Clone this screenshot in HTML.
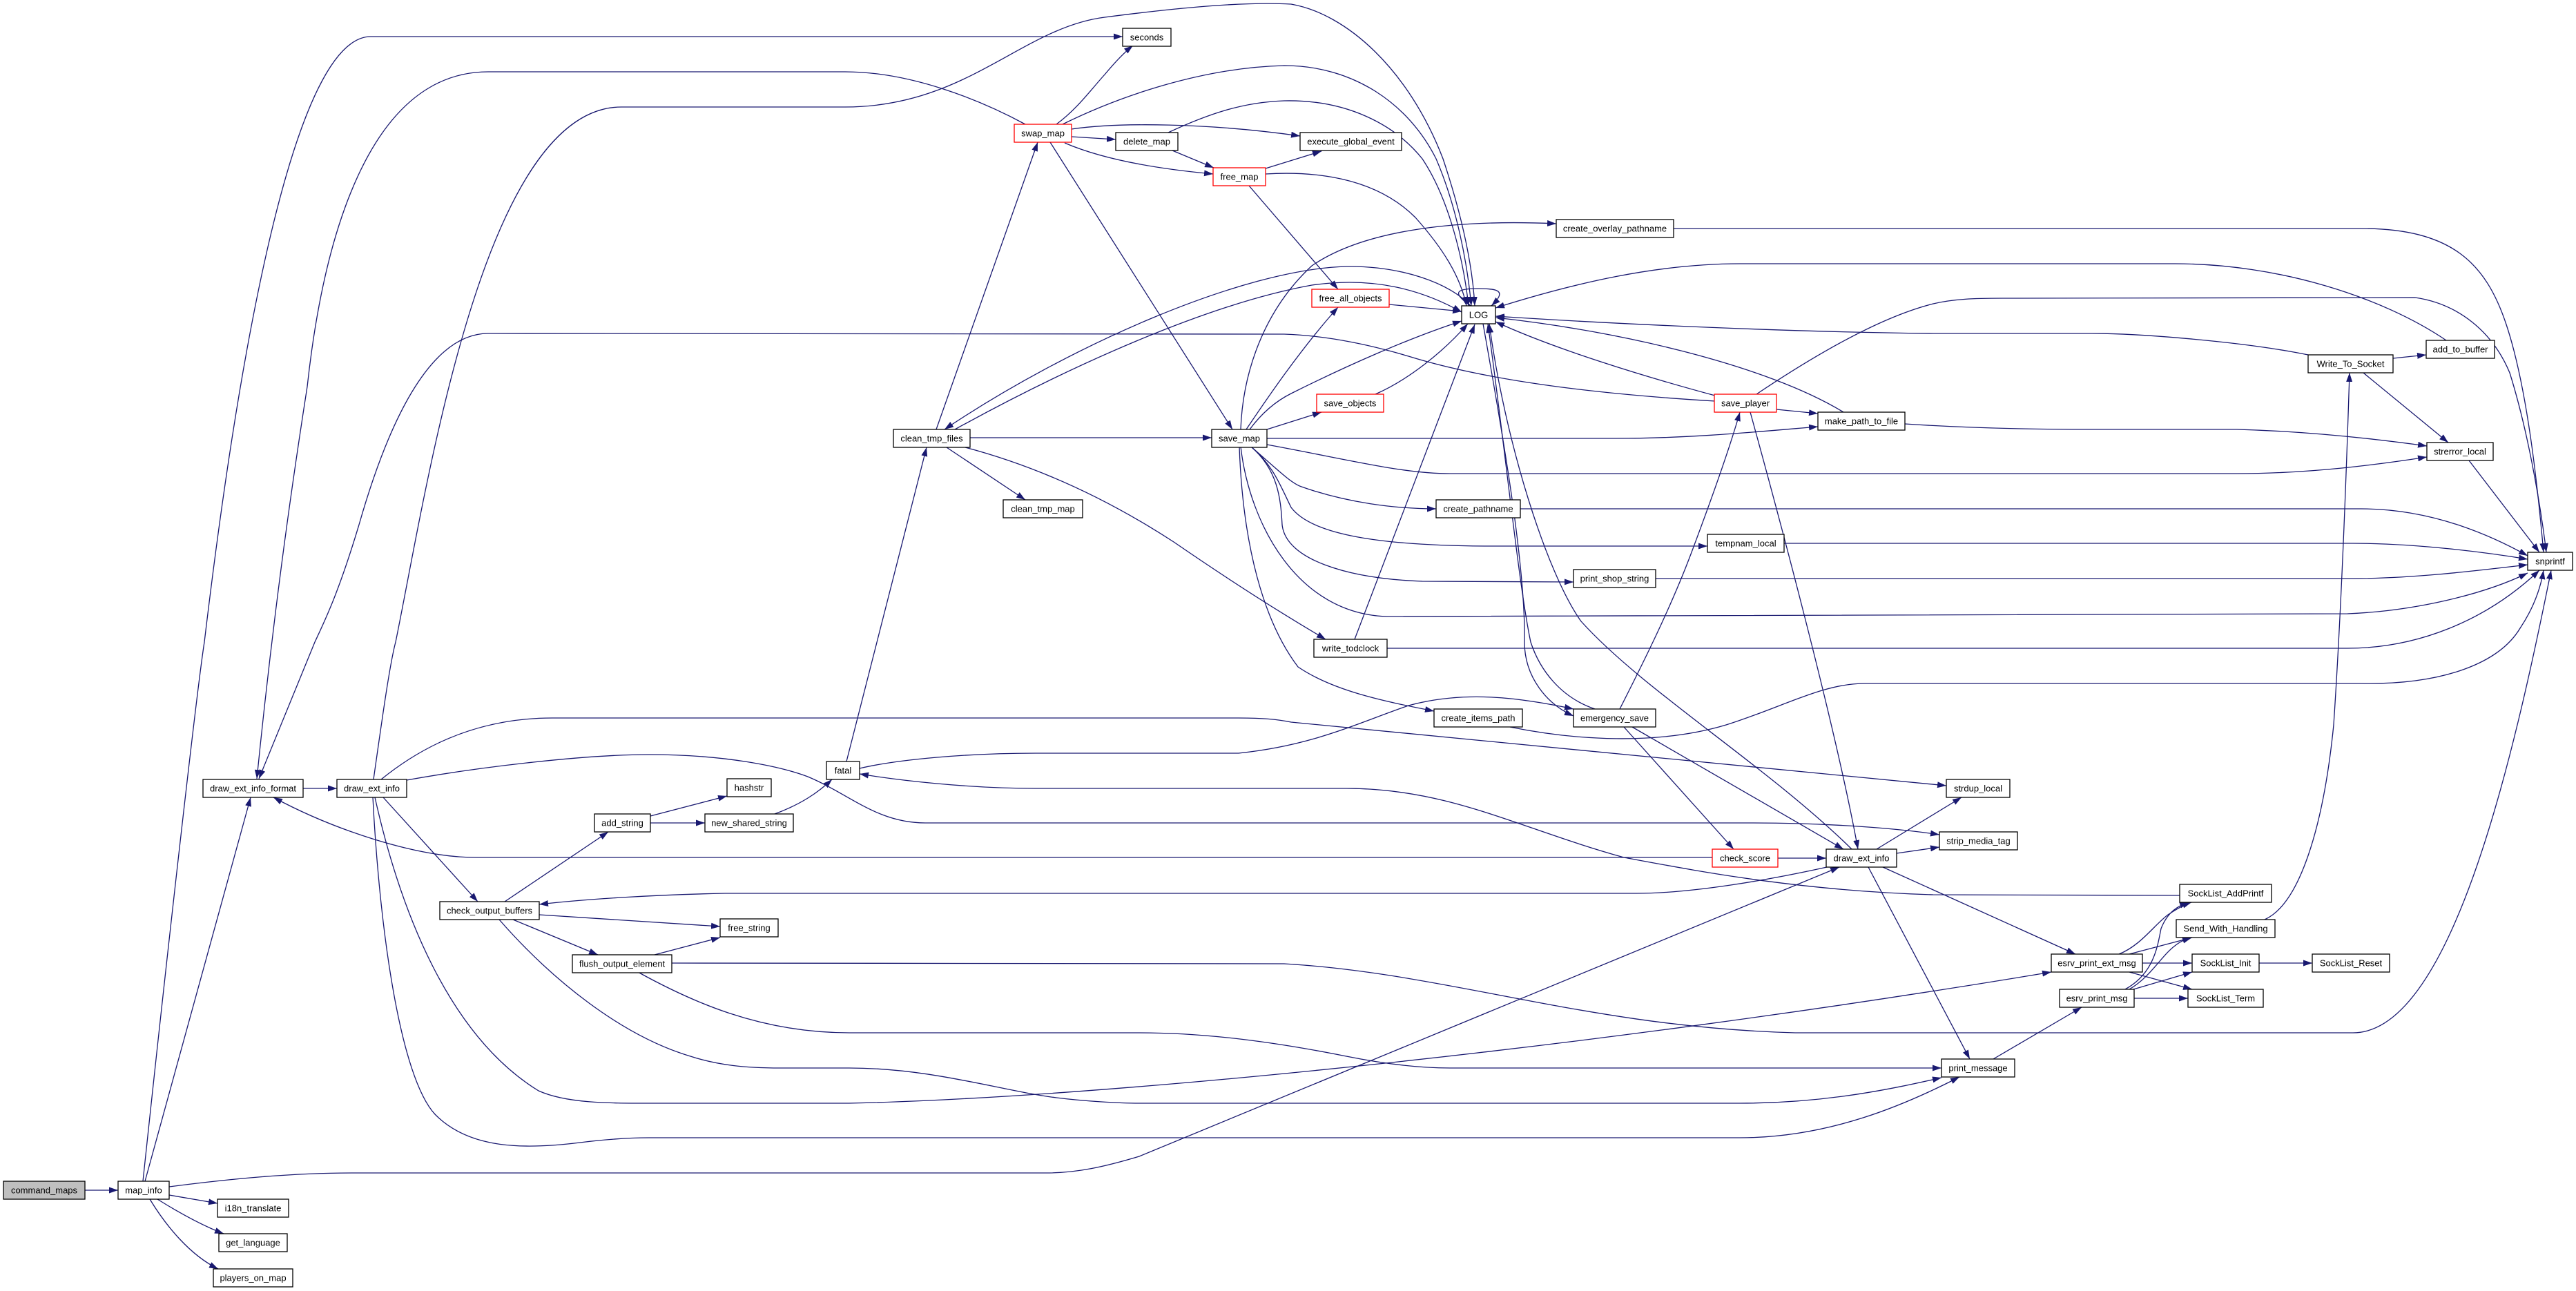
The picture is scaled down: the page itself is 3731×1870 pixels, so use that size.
<!DOCTYPE html>
<html><head><meta charset="utf-8"><style>
html,body{margin:0;padding:0;background:#fff;}
svg{display:block;}
text{font-family:"Liberation Sans",Arial,sans-serif;font-size:13px;fill:#000;}
</style></head><body>
<svg width="3731" height="1870" viewBox="0 0 3731 1870" xmlns="http://www.w3.org/2000/svg">
<defs><marker id="a" markerWidth="13" markerHeight="9" refX="13" refY="4.5" orient="auto" markerUnits="userSpaceOnUse"><path d="M0,0L13,4.5L0,9z" fill="#191970"/></marker></defs>
<rect x="0" y="0" width="3731" height="1870" fill="#fff"/>
<g fill="none" stroke="#191970" stroke-width="1.3" marker-end="url(#a)">
<path d="M123,1724 L171,1724"/>
<path d="M245,1731 L315,1743"/>
<path d="M228,1737 C260,1757 295,1776 324,1787"/>
<path d="M217,1737 C240,1775 275,1818 316,1838"/>
<path d="M210,1711 L363,1155"/>
<path d="M207,1711 C240,1400 285,1000 296,930 C340,560 420,53 537,53 L1626,53"/>
<path d="M245,1719 C330,1708 420,1699 510,1699 L1515,1699 C1560,1699 1600,1690 1650,1675 L2664,1256"/>
<path d="M439,1142 L488,1142"/>
<path d="M1485,180 C1420,145 1320,104 1224,104 L707,104 C540,104 470,330 445,560 C420,720 395,900 372,1128"/>
<path d="M2484,581 C2300,570 2150,550 2040,516 C1980,498 1920,486 1860,484 L707,483 C620,483 560,620 520,760 C490,860 470,900 456,930 L375,1128"/>
<path d="M2480,1242 L690,1242 C600,1242 480,1200 396,1155"/>
<path d="M541,1129 C555,1030 565,960 573,930 C620,700 700,155 900,155 L1224,155 C1400,155 1480,40 1600,25 C1700,12 1800,2 1870,6 C1950,20 2040,100 2090,230 C2120,320 2133,390 2136,443"/>
<path d="M1530,180 C1560,158 1580,130 1600,108 C1615,90 1628,76 1641,66"/>
<path d="M1539,180 C1620,140 1740,98 1860,95 C1960,95 2040,150 2080,230 C2110,300 2125,380 2131,443"/>
<path d="M1552,187 C1620,177 1750,178 1883,197"/>
<path d="M1552,198 L1616,202"/>
<path d="M1542,207 C1600,232 1680,245 1757,252"/>
<path d="M1521,206 L1785,622"/>
<path d="M1698,218 L1758,243"/>
<path d="M1692,192 C1750,165 1800,148 1860,146 C1950,144 2020,180 2060,230 C2100,290 2120,380 2127,443"/>
<path d="M1833,244 L1914,219"/>
<path d="M1833,252 C1900,248 1990,255 2050,315 C2090,360 2115,400 2124,443"/>
<path d="M1809,269 L1938,419"/>
<path d="M1356,622 L1503,206"/>
<path d="M1405,634 L1755,634"/>
<path d="M1371,648 L1485,724"/>
<path d="M1398,648 C1500,675 1600,720 1700,785 C1780,840 1850,885 1920,926"/>
<path d="M2130,443 C2100,410 2030,385 1950,386 C1800,390 1550,500 1368,622"/>
<path d="M1383,622 C1550,530 1750,440 1900,413 C1990,400 2060,420 2117,452"/>
<path d="M1226,1103 L1342,648"/>
<path d="M1810,622 C1830,595 1850,580 1870,570 C1950,530 2040,490 2117,465"/>
<path d="M1797,622 C1800,540 1830,450 1900,385 C1980,330 2120,318 2254,324"/>
<path d="M1805,622 C1830,585 1880,510 1938,445"/>
<path d="M1835,622 L1914,597"/>
<path d="M1835,635 L2340,635 C2450,635 2550,625 2633,618"/>
<path d="M1835,644 C1950,665 2030,686 2100,686 L3240,686 C3350,686 3450,672 3515,662"/>
<path d="M1812,647 C1850,680 1870,700 1885,705 C1950,728 2020,737 2080,737"/>
<path d="M1812,647 C1845,675 1855,705 1870,735 C1900,775 2000,790 2150,791 L2473,791"/>
<path d="M1812,647 C1850,680 1855,720 1857,760 C1862,810 1950,838 2060,842 L2279,843"/>
<path d="M1797,647 C1810,760 1880,890 2010,893 L3400,889 C3500,885 3600,860 3661,830"/>
<path d="M1795,647 C1800,790 1830,900 1880,966 C1930,1000 2000,1015 2077,1030"/>
<path d="M1962,926 L2136,470"/>
<path d="M2009,939 L3400,939 C3500,939 3600,900 3678,826"/>
<path d="M2202,737 L3420,737 C3500,737 3580,760 3661,805"/>
<path d="M2584,787 L3408,787 C3500,787 3600,800 3661,810"/>
<path d="M2398,838 L3408,838 C3500,838 3600,825 3661,818"/>
<path d="M2424,331 L3420,331 C3550,331 3600,380 3630,470 C3660,560 3675,700 3684,800"/>
<path d="M2544,571 C2620,520 2720,460 2800,440 C2830,433 2860,432 2900,432 L3498,431 C3560,440 3610,480 3635,540 C3660,620 3678,720 3688,800"/>
<path d="M2484,573 C2380,545 2250,505 2166,466"/>
<path d="M2573,593 L2633,599"/>
<path d="M2535,597 C2580,760 2660,1060 2691,1230"/>
<path d="M2670,597 C2560,530 2350,480 2166,460"/>
<path d="M2759,614 C2850,620 2950,622 3030,622 L3240,622 C3350,625 3450,637 3515,646"/>
<path d="M3343,514 C3250,495 3100,483 3030,483 L2800,483 C2600,481 2350,470 2166,458"/>
<path d="M3543,493 C3450,430 3300,382 3150,382 L2520,382 C2400,382 2280,410 2166,446"/>
<path d="M3466,519 L3514,514"/>
<path d="M3423,540 L3546,641"/>
<path d="M3280,1332 C3330,1310 3365,1200 3380,1050 C3390,900 3398,700 3403,540"/>
<path d="M3576,667 L3678,800"/>
<path d="M2187,1053 C2280,1072 2400,1080 2500,1050 C2580,1025 2640,990 2700,990 L3420,990 C3540,992 3620,960 3650,910 C3670,880 3680,850 3684,826"/>
<path d="M973,1395 L1860,1396 C2100,1410 2300,1488 2600,1496 L3408,1496 C3550,1496 3640,1100 3695,826"/>
<path d="M1245,1113 C1300,1100 1400,1091 1500,1091 L1794,1091 C1900,1080 1960,1050 2040,1022 C2120,1000 2200,1010 2279,1027"/>
<path d="M3157,1297 L2800,1296 C2600,1290 2450,1260 2352,1242 C2200,1200 2100,1142 1950,1142 L1500,1142 C1400,1142 1300,1130 1245,1121"/>
<path d="M1122,1179 C1160,1165 1185,1148 1205,1129"/>
<path d="M942,1182 L1053,1153"/>
<path d="M942,1192 L1021,1192"/>
<path d="M731,1306 L881,1205"/>
<path d="M743,1332 L866,1383"/>
<path d="M781,1325 L1043,1342"/>
<path d="M948,1383 L1043,1358"/>
<path d="M723,1332 C800,1420 900,1500 1000,1530 C1040,1543 1080,1547 1130,1547 L1230,1547 C1350,1547 1450,1580 1530,1590 C1570,1595 1620,1598 1650,1598 L2520,1598 C2650,1598 2750,1575 2812,1561"/>
<path d="M924,1408 C1000,1450 1100,1496 1230,1496 L1650,1496 C1750,1496 1850,1510 1950,1530 C2000,1540 2050,1547 2100,1547 L2812,1547"/>
<path d="M543,1155 C580,1320 650,1500 780,1580 C820,1598 880,1598 940,1598 L1230,1598 C1600,1590 2300,1520 2971,1408"/>
<path d="M540,1155 C550,1350 580,1560 630,1614 C680,1665 760,1665 840,1655 C880,1650 910,1648 940,1648 L2520,1648 C2650,1648 2760,1600 2838,1560"/>
<path d="M555,1155 L692,1306"/>
<path d="M552,1129 C600,1090 680,1040 800,1040 L1794,1040 C1830,1040 1850,1042 1870,1046 L2819,1138"/>
<path d="M589,1130 C700,1110 850,1093 940,1093 C1050,1093 1130,1110 1170,1125 C1230,1150 1270,1192 1340,1192 L2538,1192 C2650,1192 2750,1200 2809,1209"/>
<path d="M2718,1230 L2841,1155"/>
<path d="M2747,1236 L2809,1227"/>
<path d="M2646,1256 C2560,1275 2450,1294 2370,1294 L1050,1294 C950,1296 850,1302 781,1310"/>
<path d="M2727,1256 L3006,1382"/>
<path d="M2706,1256 L2853,1534"/>
<path d="M2682,1230 C2560,1110 2380,1000 2290,900 C2240,830 2180,640 2157,469"/>
<path d="M2148,469 C2175,620 2210,820 2208,930 C2208,980 2240,1020 2279,1037"/>
<path d="M2310,1027 C2260,1010 2230,970 2217,930 C2200,850 2180,650 2155,469"/>
<path d="M2346,1027 C2380,960 2420,880 2450,800 C2480,720 2505,650 2520,597"/>
<path d="M2352,1053 L2511,1230"/>
<path d="M2364,1053 L2670,1230"/>
<path d="M2575,1243 L2645,1243"/>
<path d="M3069,1382 C3100,1370 3120,1340 3140,1325 C3155,1315 3165,1310 3174,1307"/>
<path d="M3084,1382 L3175,1358"/>
<path d="M3103,1395 L3175,1395"/>
<path d="M3084,1408 L3175,1433"/>
<path d="M3078,1433 C3120,1410 3125,1370 3130,1345 C3140,1320 3155,1312 3170,1307"/>
<path d="M3084,1433 C3115,1415 3130,1385 3150,1370 C3160,1362 3168,1360 3174,1358"/>
<path d="M3090,1433 L3175,1408"/>
<path d="M3091,1446 L3169,1446"/>
<path d="M3272,1395 L3349,1395"/>
<path d="M2887,1534 L3015,1459"/>
<path d="M2012,441 L2117,451"/>
<path d="M1992,571 C2040,550 2090,510 2126,469"/>
<path d="M2130,443 C2100,422 2112,418 2141,418 C2172,418 2182,422 2160,443"/>
</g>
<g stroke-width="1.3" text-anchor="middle">
<rect x="5" y="1711" width="118" height="26" fill="#bfbfbf" stroke="#000"/><text x="64" y="1728.5">command_maps</text>
<rect x="171" y="1711" width="74" height="26" fill="#fff" stroke="#000"/><text x="208" y="1728.5">map_info</text>
<rect x="315" y="1737" width="103" height="26" fill="#fff" stroke="#000"/><text x="366.5" y="1754.5">i18n_translate</text>
<rect x="317" y="1787" width="99" height="26" fill="#fff" stroke="#000"/><text x="366.5" y="1804.5">get_language</text>
<rect x="309" y="1838" width="115" height="26" fill="#fff" stroke="#000"/><text x="366.5" y="1855.5">players_on_map</text>
<rect x="294" y="1129" width="145" height="26" fill="#fff" stroke="#000"/><text x="366.5" y="1146.5">draw_ext_info_format</text>
<rect x="488" y="1129" width="101" height="26" fill="#fff" stroke="#000"/><text x="538.5" y="1146.5">draw_ext_info</text>
<rect x="861" y="1179" width="81" height="26" fill="#fff" stroke="#000"/><text x="901.5" y="1196.5">add_string</text>
<rect x="637" y="1306" width="144" height="26" fill="#fff" stroke="#000"/><text x="709" y="1323.5">check_output_buffers</text>
<rect x="829" y="1383" width="144" height="26" fill="#fff" stroke="#000"/><text x="901" y="1400.5">flush_output_element</text>
<rect x="1053" y="1128" width="64" height="26" fill="#fff" stroke="#000"/><text x="1085" y="1145.5">hashstr</text>
<rect x="1021" y="1179" width="128" height="26" fill="#fff" stroke="#000"/><text x="1085" y="1196.5">new_shared_string</text>
<rect x="1043" y="1331" width="84" height="26" fill="#fff" stroke="#000"/><text x="1085" y="1348.5">free_string</text>
<rect x="1197" y="1103" width="48" height="26" fill="#fff" stroke="#000"/><text x="1221" y="1120.5">fatal</text>
<rect x="1626" y="41" width="70" height="26" fill="#fff" stroke="#000"/><text x="1661" y="58.5">seconds</text>
<rect x="1469" y="180" width="83" height="26" fill="#fff" stroke="#ff0000"/><text x="1510.5" y="197.5">swap_map</text>
<rect x="1616" y="192" width="90" height="26" fill="#fff" stroke="#000"/><text x="1661" y="209.5">delete_map</text>
<rect x="1757" y="243" width="76" height="26" fill="#fff" stroke="#ff0000"/><text x="1795" y="260.5">free_map</text>
<rect x="1294" y="622" width="111" height="26" fill="#fff" stroke="#000"/><text x="1349.5" y="639.5">clean_tmp_files</text>
<rect x="1755" y="622" width="80" height="26" fill="#fff" stroke="#000"/><text x="1795" y="639.5">save_map</text>
<rect x="1453" y="724" width="115" height="26" fill="#fff" stroke="#000"/><text x="1510.5" y="741.5">clean_tmp_map</text>
<rect x="1883" y="192" width="147" height="26" fill="#fff" stroke="#000"/><text x="1956.5" y="209.5">execute_global_event</text>
<rect x="2254" y="318" width="170" height="26" fill="#fff" stroke="#000"/><text x="2339" y="335.5">create_overlay_pathname</text>
<rect x="1900" y="419" width="112" height="26" fill="#fff" stroke="#ff0000"/><text x="1956" y="436.5">free_all_objects</text>
<rect x="2117" y="443" width="49" height="26" fill="#fff" stroke="#000"/><text x="2141.5" y="460.5">LOG</text>
<rect x="1907" y="571" width="97" height="26" fill="#fff" stroke="#ff0000"/><text x="1955.5" y="588.5">save_objects</text>
<rect x="2483" y="571" width="90" height="26" fill="#fff" stroke="#ff0000"/><text x="2528" y="588.5">save_player</text>
<rect x="2633" y="597" width="126" height="26" fill="#fff" stroke="#000"/><text x="2696" y="614.5">make_path_to_file</text>
<rect x="2080" y="724" width="122" height="26" fill="#fff" stroke="#000"/><text x="2141" y="741.5">create_pathname</text>
<rect x="2473" y="774" width="111" height="26" fill="#fff" stroke="#000"/><text x="2528.5" y="791.5">tempnam_local</text>
<rect x="2279" y="825" width="119" height="26" fill="#fff" stroke="#000"/><text x="2338.5" y="842.5">print_shop_string</text>
<rect x="1903" y="926" width="106" height="26" fill="#fff" stroke="#000"/><text x="1956" y="943.5">write_todclock</text>
<rect x="2077" y="1027" width="128" height="26" fill="#fff" stroke="#000"/><text x="2141" y="1044.5">create_items_path</text>
<rect x="2279" y="1027" width="119" height="26" fill="#fff" stroke="#000"/><text x="2338.5" y="1044.5">emergency_save</text>
<rect x="2480" y="1230" width="95" height="26" fill="#fff" stroke="#ff0000"/><text x="2527.5" y="1247.5">check_score</text>
<rect x="2645" y="1230" width="102" height="26" fill="#fff" stroke="#000"/><text x="2696" y="1247.5">draw_ext_info</text>
<rect x="3343" y="514" width="123" height="26" fill="#fff" stroke="#000"/><text x="3404.5" y="531.5">Write_To_Socket</text>
<rect x="3514" y="493" width="99" height="26" fill="#fff" stroke="#000"/><text x="3563.5" y="510.5">add_to_buffer</text>
<rect x="3515" y="641" width="96" height="26" fill="#fff" stroke="#000"/><text x="3563" y="658.5">strerror_local</text>
<rect x="3661" y="800" width="65" height="26" fill="#fff" stroke="#000"/><text x="3693.5" y="817.5">snprintf</text>
<rect x="2819" y="1129" width="92" height="26" fill="#fff" stroke="#000"/><text x="2865" y="1146.5">strdup_local</text>
<rect x="2809" y="1205" width="113" height="26" fill="#fff" stroke="#000"/><text x="2865.5" y="1222.5">strip_media_tag</text>
<rect x="3157" y="1281" width="133" height="26" fill="#fff" stroke="#000"/><text x="3223.5" y="1298.5">SockList_AddPrintf</text>
<rect x="3152" y="1332" width="143" height="26" fill="#fff" stroke="#000"/><text x="3223.5" y="1349.5">Send_With_Handling</text>
<rect x="2971" y="1382" width="132" height="26" fill="#fff" stroke="#000"/><text x="3037" y="1399.5">esrv_print_ext_msg</text>
<rect x="3175" y="1382" width="97" height="26" fill="#fff" stroke="#000"/><text x="3223.5" y="1399.5">SockList_Init</text>
<rect x="3349" y="1382" width="112" height="26" fill="#fff" stroke="#000"/><text x="3405" y="1399.5">SockList_Reset</text>
<rect x="2983" y="1433" width="108" height="26" fill="#fff" stroke="#000"/><text x="3037" y="1450.5">esrv_print_msg</text>
<rect x="3169" y="1433" width="109" height="26" fill="#fff" stroke="#000"/><text x="3223.5" y="1450.5">SockList_Term</text>
<rect x="2812" y="1534" width="106" height="26" fill="#fff" stroke="#000"/><text x="2865" y="1551.5">print_message</text>
</g>
</svg>
</body></html>
